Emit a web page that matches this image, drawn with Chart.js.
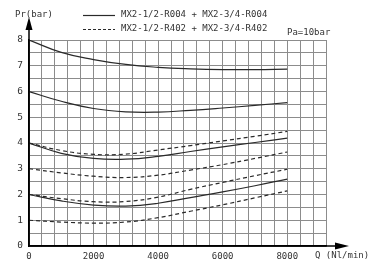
<!DOCTYPE html>
<html><head><meta charset="utf-8">
<script src="https://cdn.jsdelivr.net/npm/chart.js@4"></script>
<style>html,body{margin:0;padding:0;background:#fff}#wrap{width:374px;height:271px}</style>
</head><body><div id="wrap"><canvas id="c" width="374" height="271"></canvas></div>
<script>
const flow = [0, 1000, 2000, 3000, 4000, 5000, 6000, 7000, 8000];
const r004_8 = [8.0, 7.52, 7.24, 7.05, 6.94, 6.88, 6.85, 6.85, 6.87];
const r004_6 = [6.0, 5.62, 5.34, 5.21, 5.2, 5.27, 5.36, 5.46, 5.57];
const r004_4 = [4.0, 3.6, 3.4, 3.37, 3.48, 3.67, 3.85, 4.02, 4.19];
const r004_2 = [2.0, 1.75, 1.59, 1.55, 1.66, 1.88, 2.1, 2.34, 2.6];
const r402_4 = [4.0, 3.71, 3.56, 3.57, 3.73, 3.9, 4.08, 4.26, 4.45];
const r402_3 = [3.0, 2.84, 2.71, 2.66, 2.75, 2.95, 3.16, 3.4, 3.65];
const r402_2 = [2.0, 1.84, 1.72, 1.73, 1.9, 2.2, 2.47, 2.73, 2.98];
const r402_1 = [1.0, 0.93, 0.89, 0.93, 1.1, 1.35, 1.6, 1.87, 2.14];
const xLabels = [0, 2000, 4000, 6000, 8000];
const yLabels = [0, 1, 2, 3, 4, 5, 6, 7, 8];
const legendLabels = ["MX2-1/2-R004 + MX2-3/4-R004", "MX2-1/2-R402 + MX2-3/4-R402"];
const yTitle = "Pr(bar)";
const xTitle = "Q (Nl/min)";
const note = "Pa=10bar";

const FONT = "DejaVu Sans Mono";
const mk = (arr, dashed) => ({
  data: flow.map((q, i) => ({x: q, y: arr[i]})),
  borderColor: '#2a2a2a', borderWidth: 1.2, pointRadius: 0,
  borderDash: dashed ? [4, 3] : [], tension: 0.45, fill: false
});

const deco = {
  id: 'deco',
  afterDraw(chart) {
    const ctx = chart.ctx, a = chart.chartArea;
    ctx.save();
    ctx.strokeStyle = '#000'; ctx.fillStyle = '#000'; ctx.lineWidth = 1.5;
    ctx.beginPath(); ctx.moveTo(a.left, a.bottom); ctx.lineTo(a.left, 28); ctx.stroke();
    ctx.beginPath(); ctx.moveTo(a.left, 17); ctx.lineTo(a.left - 3.5, 30); ctx.lineTo(a.left + 3.5, 30); ctx.closePath(); ctx.fill();
    ctx.beginPath(); ctx.moveTo(a.left, a.bottom); ctx.lineTo(338, a.bottom); ctx.stroke();
    ctx.beginPath(); ctx.moveTo(349, a.bottom); ctx.lineTo(335, a.bottom - 3.5); ctx.lineTo(335, a.bottom + 3.5); ctx.closePath(); ctx.fill();
    ctx.font = '9px "' + FONT + '"'; ctx.fillStyle = '#333'; ctx.textBaseline = 'middle';
    ctx.textAlign = 'left';
    ctx.fillText(yTitle, 15, 15);
    ctx.fillText(xTitle, 315, 256);
    ctx.fillText(note, 287, 33);
    ctx.strokeStyle = '#2a2a2a'; ctx.lineWidth = 1.2;
    ctx.beginPath(); ctx.moveTo(83, 15.5); ctx.lineTo(115, 15.5); ctx.stroke();
    ctx.setLineDash([3, 2]);
    ctx.beginPath(); ctx.moveTo(83, 29.5); ctx.lineTo(115, 29.5); ctx.stroke();
    ctx.setLineDash([]);
    ctx.fillText(legendLabels[0], 121, 15);
    ctx.fillText(legendLabels[1], 121, 29);
    ctx.restore();
  }
};

new Chart(document.getElementById('c'), {
  type: 'line',
  data: { datasets: [
    mk(r004_8, false), mk(r004_6, false), mk(r004_4, false), mk(r004_2, false),
    mk(r402_4, true), mk(r402_3, true), mk(r402_2, true), mk(r402_1, true)
  ]},
  options: {
    responsive: false, animation: false, devicePixelRatio: 1,
    layout: { padding: { left: 0, right: 48, top: 40, bottom: 0 } },
    plugins: { legend: { display: false }, tooltip: { enabled: false } },
    scales: {
      x: {
        type: 'linear', min: 0, max: 9200,
        afterFit: s => { s.height = 25; },
        afterBuildTicks: s => { const t = []; for (let v = 0; v <= 9200; v += 400) t.push({value: v}); s.ticks = t; },
        ticks: { autoSkip: false, maxRotation: 0, padding: 5, color: '#333', font: { family: FONT, size: 9 },
          callback: v => xLabels.includes(v) ? String(v) : '' },
        grid: { color: '#8c8c8c', lineWidth: 1, drawTicks: false },
        border: { display: true, color: '#000', width: 1.5 }
      },
      y: {
        min: 0, max: 8,
        afterFit: s => { s.width = 29; },
        afterBuildTicks: s => { const t = []; for (let v = 0; v <= 8; v += 0.5) t.push({value: v}); s.ticks = t; },
        ticks: { autoSkip: false, padding: 6, color: '#333', font: { family: FONT, size: 9.5 },
          callback: v => yLabels.includes(v) ? String(v) : '' },
        grid: { color: '#8c8c8c', lineWidth: 1, drawTicks: false },
        border: { display: true, color: '#000', width: 1.5 }
      }
    }
  },
  plugins: [deco]
});
</script></body></html>
